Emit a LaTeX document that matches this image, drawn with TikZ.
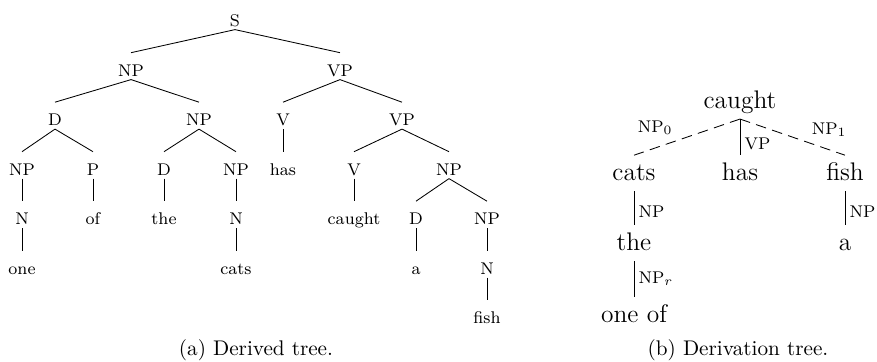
\documentclass[tikz,border=0pt]{standalone}

\begin{document}
\begin{tikzpicture}[x=0.4717pt, y=-0.4717pt,
    arbol/.style={font=\footnotesize, anchor=base, inner sep=1.5pt, text height=9.3pt, text depth=0pt},
    deriv/.style={font=\large, anchor=base, inner sep=2pt, text height=9.5pt, text depth=3pt},
    etiq/.style={font=\footnotesize, inner sep=2pt},
    sust/.style={dash pattern=on 5pt off 3pt}]
        % Fija el marco de la figura.
        \useasboundingbox (0,0) rectangle (877,361);

        % Define los nodos del arbol derivado, nivel por nivel.
        \node[arbol] (S) at (235,26) {S};
        \node[arbol] (NPa) at (131,76) {NP};
        \node[arbol] (VPa) at (340,76) {VP};
        \node[arbol] (Da) at (55,125.5) {D};
        \node[arbol] (NPb) at (199,125.5) {NP};
        \node[arbol] (Va) at (283,125.5) {V};
        \node[arbol] (VPb) at (402,125.5) {VP};
        \node[arbol] (NPc) at (22,175) {NP};
        \node[arbol] (Pa) at (93,175) {P};
        \node[arbol] (Db) at (164,175) {D};
        \node[arbol] (NPd) at (236,175) {NP};
        \node[arbol] (has) at (283,175) {has};
        \node[arbol] (Vb) at (354,175) {V};
        \node[arbol] (NPe) at (449,175) {NP};
        \node[arbol] (Na) at (22,224.5) {N};
        \node[arbol] (of) at (93,224.5) {of};
        \node[arbol] (the) at (164,224.5) {the};
        \node[arbol] (Nb) at (236,224.5) {N};
        \node[arbol] (caught) at (354,224.5) {caught};
        \node[arbol] (Dc) at (416,224.5) {D};
        \node[arbol] (NPf) at (487,224.5) {NP};
        \node[arbol] (one) at (22,274) {one};
        \node[arbol] (cats) at (236,274) {cats};
        \node[arbol] (a) at (416,274) {a};
        \node[arbol] (Nc) at (487,274) {N};
        \node[arbol] (fish) at (487,323.5) {fish};

        % Dibuja las ramas del arbol derivado.
        \foreach \p/\h in {S/NPa, S/VPa, NPa/Da, NPa/NPb, VPa/Va, VPa/VPb,
                           Da/NPc, Da/Pa, NPb/Db, NPb/NPd, Va/has, VPb/Vb, VPb/NPe,
                           NPc/Na, Pa/of, Db/the, NPd/Nb, Vb/caught, NPe/Dc, NPe/NPf,
                           Na/one, Nb/cats, Dc/a, NPf/Nc, Nc/fish}
            \draw (\p.south) -- (\h.north);

        % Define los nodos del arbol de derivacion.
        \node[deriv] (dcaught) at (740,108) {caught};
        \node[deriv] (dcats) at (634,180) {cats};
        \node[deriv] (dhas) at (740,180) {has};
        \node[deriv] (dfish) at (845,180) {fish};
        \node[deriv] (dthe) at (634,250) {the};
        \node[deriv] (da) at (845,250) {a};
        \node[deriv] (doneof) at (634,322) {one of};

        % Sustituciones con linea discontinua, adjunciones con linea continua.
        \draw[sust] (dcaught.south) -- node[etiq, pos=.8, above=4pt] {NP$_0$} (dcats.north);
        \draw (dcaught.south) -- node[etiq, pos=.7, right] {VP} (dhas.north);
        \draw[sust] (dcaught.south) -- node[etiq, pos=.85, above=4pt] {NP$_1$} (dfish.north);
        \draw (dcats.south) -- node[etiq, pos=.6, right] {NP} (dthe.north);
        \draw (dfish.south) -- node[etiq, pos=.6, right] {NP} (da.north);
        \draw (dthe.south) -- node[etiq, midway, right] {NP$_r$} (doneof.north);

        % Escribe los titulos.
        \node[anchor=base] (capa) at (256,355) {(a) Derived tree.};
        \node[anchor=base] (capb) at (738,355) {(b) Derivation tree.};
    \end{tikzpicture}
\end{document}
